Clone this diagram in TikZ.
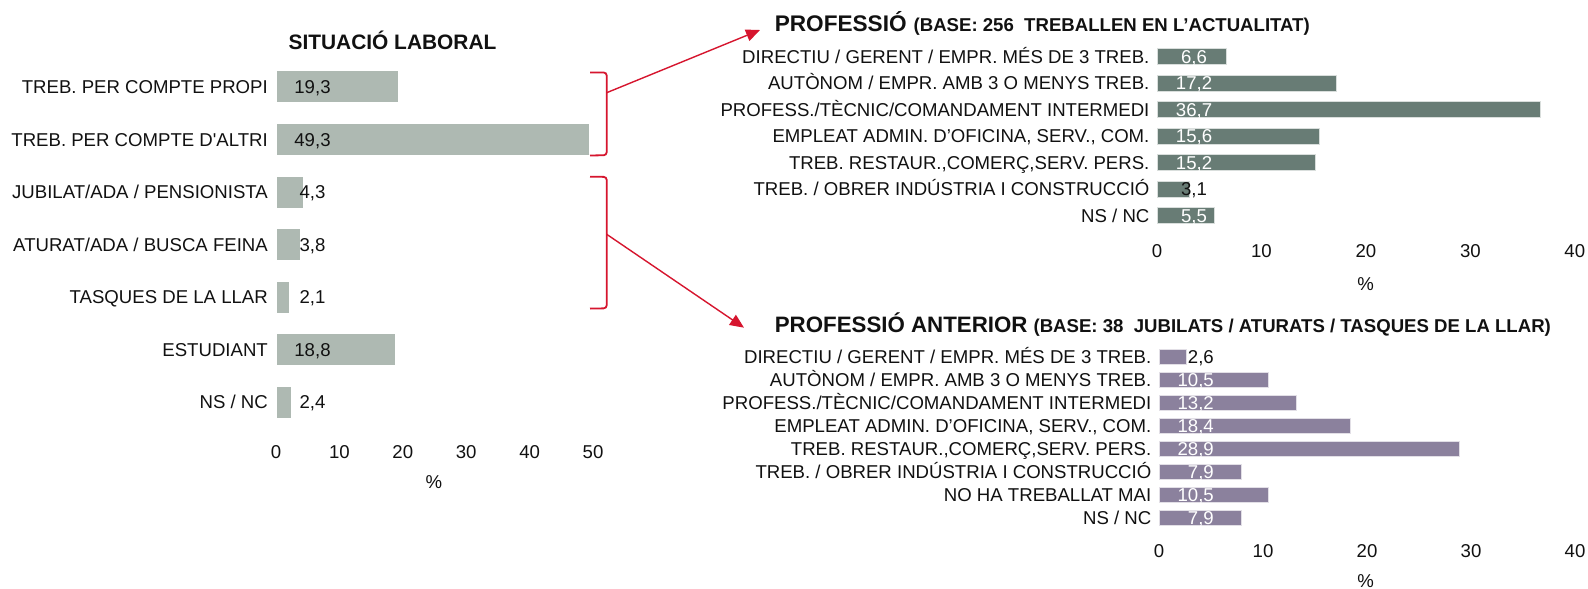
\documentclass[tikz,border=0pt]{standalone}
\usepackage{fontspec}
\setmainfont{Liberation Sans}
\usetikzlibrary{arrows.meta}
\definecolor{barL}{HTML}{AEB9B2}
\definecolor{barT}{HTML}{687C75}
\definecolor{barB}{HTML}{8B819D}
\definecolor{redc}{HTML}{D6152E}
\definecolor{txt}{HTML}{111111}
\tikzset{
  lab/.style={font=\fontsize{18.6}{20}\selectfont, text=txt, inner sep=0pt, anchor=base east},
  val/.style={font=\fontsize{18.6}{20}\selectfont, inner sep=0pt, anchor=base},
  ticklab/.style={font=\fontsize{18.6}{20}\selectfont, text=txt, inner sep=0pt, anchor=base},
  ttlbig/.style={font=\fontsize{20.9}{24}\selectfont\bfseries},
  ttl/.style={text=txt, inner sep=0pt},
  barLs/.style={fill=barL, draw=white, line width=0.5pt},
  barTs/.style={fill=barT, draw=white!75!barT, line width=0.8pt},
  barBs/.style={fill=barB, draw=white!75!barB, line width=0.8pt},
  bracketline/.style={draw=redc, line width=1.8pt, rounded corners=3pt},
  arrowline/.style={draw=redc, line width=1.4pt, -{Triangle[length=14pt,width=12pt]}},
}
\newcommand\Lrow[5]{%
  \node[lab] (#1) at (268,#2+6.7) {#4};
  \path[barLs] (276,#2-16) rectangle ({276+6.35*#3},#2+16);
  \node[val,text=txt] (#1v) at (312.5,#2+6.7) {#5};
}
\newcommand\Trow[6]{%
  \node[lab] (#1) at (1149.6,#2+6.7) {#4};
  \path[barTs] (1157,#2-8) rectangle ({1157+10.44*#3},#2+8);
  \node[val,text=#6] (#1v) at (1194,#2+6.7) {#5};
}
\newcommand\Brow[6]{%
  \node[lab] (#1) at (1151.5,#2+6.7) {#4};
  \path[barBs] (1159,#2-7.2) rectangle ({1159+10.4*#3},#2+7.2);
  \node[val,text=#6,anchor=base east] (#1v) at (1214,#2+6.7) {#5};
}
\begin{document}
\begin{tikzpicture}[x=1pt,y=-1pt]
\path[fill=white] (0,0) rectangle (1588,589);
\useasboundingbox (0,0) rectangle (1588,589);

% ---------- left chart ----------
\node[ttl,ttlbig,anchor=base] (ttlL) at (392.5,49.2) {SITUACIÓ LABORAL};
\Lrow{l1}{86.7}{19.3}{TREB. PER COMPTE PROPI}{19,3}
\Lrow{l2}{139.3}{49.3}{TREB. PER COMPTE D\textquotesingle ALTRI}{49,3}
\Lrow{l3}{191.9}{4.3}{JUBILAT/ADA / PENSIONISTA}{4,3}
\Lrow{l4}{244.4}{3.8}{ATURAT/ADA / BUSCA FEINA}{3,8}
\Lrow{l5}{297}{2.1}{TASQUES DE LA LLAR}{2,1}
\Lrow{l6}{349.6}{18.8}{ESTUDIANT}{18,8}
\Lrow{l7}{402.1}{2.4}{NS / NC}{2,4}
\foreach \k/\t in {0/0,1/10,2/20,3/30,4/40,5/50}
  \node[ticklab] (lx\k) at (276+63.4*\k,458.4) {\t};
\node[ticklab] (lpct) at (433.8,488.4) {\%};

% ---------- top right chart ----------
\node[ttl,anchor=base west] (ttlT) at (774.6,31.8)
  {{\fontsize{22.6}{24}\selectfont\bfseries PROFESSIÓ}\hspace{7pt}{\fontsize{18.6}{22}\selectfont\bfseries (BASE: 256\ \ TREBALLEN EN L’ACTUALITAT)}};
\Trow{t1}{56.3}{6.6}{DIRECTIU / GERENT / EMPR. MÉS DE 3 TREB.}{6,6}{white}
\Trow{t2}{82.9}{17.2}{AUTÒNOM / EMPR. AMB 3 O MENYS TREB.}{17,2}{white}
\Trow{t3}{109.4}{36.7}{PROFESS./TÈCNIC/COMANDAMENT INTERMEDI}{36,7}{white}
\Trow{t4}{136}{15.6}{EMPLEAT ADMIN. D’OFICINA, SERV., COM.}{15,6}{white}
\Trow{t5}{162.6}{15.2}{TREB. RESTAUR.,COMERÇ,SERV. PERS.}{15,2}{white}
\Trow{t6}{189.1}{3.1}{TREB. / OBRER INDÚSTRIA I CONSTRUCCIÓ}{3,1}{txt}
\Trow{t7}{215.7}{5.5}{NS / NC}{5,5}{white}
\foreach \k/\t in {0/0,1/10,2/20,3/30,4/40}
  \node[ticklab] (tx\k) at (1157+104.45*\k,257.4) {\t};
\node[ticklab] (tpct) at (1365.7,290) {\%};

% ---------- bottom right chart ----------
\node[ttl,anchor=base west] (ttlB) at (774.6,332.8)
  {{\fontsize{22.3}{24}\selectfont\bfseries PROFESSIÓ ANTERIOR}\hspace{6pt}{\fontsize{18.6}{22}\selectfont\bfseries (BASE: 38\ \ JUBILATS / ATURATS / TASQUES DE LA LLAR)}};
\Brow{p1}{357}{2.6}{DIRECTIU / GERENT / EMPR. MÉS DE 3 TREB.}{2,6}{txt}
\Brow{p2}{380}{10.5}{AUTÒNOM / EMPR. AMB 3 O MENYS TREB.}{10,5}{white}
\Brow{p3}{402.9}{13.2}{PROFESS./TÈCNIC/COMANDAMENT INTERMEDI}{13,2}{white}
\Brow{p4}{425.9}{18.4}{EMPLEAT ADMIN. D’OFICINA, SERV., COM.}{18,4}{white}
\Brow{p5}{448.9}{28.9}{TREB. RESTAUR.,COMERÇ,SERV. PERS.}{28,9}{white}
\Brow{p6}{471.8}{7.9}{TREB. / OBRER INDÚSTRIA I CONSTRUCCIÓ}{7,9}{white}
\Brow{p7}{494.8}{10.5}{NO HA TREBALLAT MAI}{10,5}{white}
\Brow{p8}{517.8}{7.9}{NS / NC}{7,9}{white}
\foreach \k/\t in {0/0,1/10,2/20,3/30,4/40}
  \node[ticklab] (bx\k) at (1159+104*\k,557.4) {\t};
\node[ticklab] (bpct) at (1365.7,587.3) {\%};

% ---------- brackets and arrows ----------
\draw[bracketline] (590,72.5) -- (606.7,72.5) -- (606.7,155.2) -- (590,155.5);
\draw[bracketline] (590,176.7) -- (606.7,176.9) -- (606.7,308.3) -- (590,308.6);
\coordinate (b1m) at (606.7,92.7);
\coordinate (a1) at (760,30);
\coordinate (b2m) at (606.7,234.3);
\coordinate (a2) at (744,327.7);
\draw[arrowline] (b1m) -- (a1);
\draw[arrowline] (b2m) -- (a2);
\end{tikzpicture}
\end{document}
